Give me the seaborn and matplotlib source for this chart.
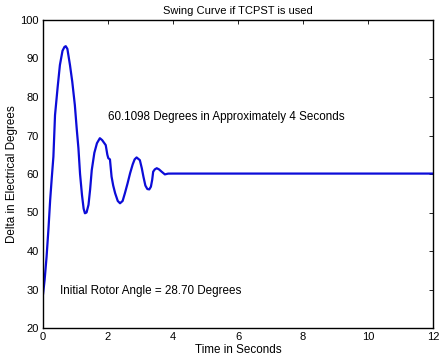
import numpy as np
import pandas as pd
import matplotlib
matplotlib.use('Agg')
import matplotlib.pyplot as plt
import seaborn as sns

# values
time_s = [0.0, 0.05, 0.11, 0.17, 0.22, 0.27, 0.32, 0.37, 0.45, 0.52, 0.6, 0.66, 0.7, 0.75,
          0.83, 0.9, 0.98, 1.04, 1.09, 1.14, 1.2, 1.25, 1.29, 1.34, 1.4, 1.45, 1.5, 1.58,
          1.66, 1.75, 1.82, 1.93, 1.98, 2.01, 2.06, 2.11, 2.16, 2.22, 2.3, 2.37, 2.45,
          2.52, 2.6, 2.68, 2.76, 2.82, 2.88, 2.98, 3.04, 3.09, 3.15, 3.21, 3.27, 3.32,
          3.36, 3.39, 3.44, 3.5, 3.57, 3.65, 3.75, 3.85, 4.0, 6.0, 8.0, 10.0, 12.0]
delta_deg = [28.7, 32.5, 38.5, 46.0, 53.2, 59.0, 64.5, 75.3, 82.5, 88.3, 92.0, 93.0, 93.2, 92.5,
             88.3, 84.0, 77.9, 71.5, 66.7, 60.0, 54.5, 51.0, 49.8, 50.0, 52.0, 56.0, 61.0, 65.5,
             68.0, 69.3, 68.8, 67.5, 65.0, 64.1, 63.8, 59.3, 57.0, 55.0, 53.0, 52.4, 53.0,
             55.0, 57.5, 60.2, 62.5, 63.8, 64.3, 63.6, 61.5, 59.3, 57.0, 56.1, 56.0, 56.7,
             58.5, 60.6, 61.2, 61.5, 61.2, 60.6, 59.9, 60.1, 60.1098, 60.1098, 60.1098, 60.1098, 60.1098]

x_ticks = [0, 2, 4, 6, 8, 10, 12]
y_ticks = [20, 30, 40, 50, 60, 70, 80, 90, 100]

df = pd.DataFrame({'t': time_s, 'delta': delta_deg})

sns.set_style('white')
plt.rcParams['font.family'] = ['Liberation Sans', 'DejaVu Sans']
plt.rcParams['text.color'] = 'black'
plt.rcParams['axes.labelcolor'] = 'black'
plt.rcParams['xtick.color'] = 'black'
plt.rcParams['ytick.color'] = 'black'

fig = plt.figure(figsize=(4.4, 3.62), dpi=100)
ax = fig.add_axes([43 / 440, 1 - 328 / 362, 390 / 440, 308 / 362])
sns.lineplot(data=df, x='t', y='delta', ax=ax, color='#0c0cd8', linewidth=1.6,
             sort=False, estimator=None)

ax.set_xlim(0, 12)
ax.set_ylim(20, 100)
ax.set_xticks(x_ticks)
ax.set_yticks(y_ticks)
ax.tick_params(direction='in', length=3, width=0.6, labelsize=8,
               top=True, right=True, pad=3)
for s in ax.spines.values():
    s.set_linewidth(1.0)
    s.set_color('black')

ax.set_title('Swing Curve if TCPST is used', fontsize=8, pad=4)
ax.set_xlabel('Time in Seconds', fontsize=8.4, labelpad=1)
ax.set_ylabel('Delta in Electrical Degrees', fontsize=8.4, labelpad=2)

ax.text(2.0, 74.8, '60.1098 Degrees in Approximately 4 Seconds', fontsize=8.4, va='center')
ax.text(0.52, 29.6, 'Initial Rotor Angle = 28.70 Degrees', fontsize=8.4, va='center')

fig.savefig('out.png', dpi=100)
